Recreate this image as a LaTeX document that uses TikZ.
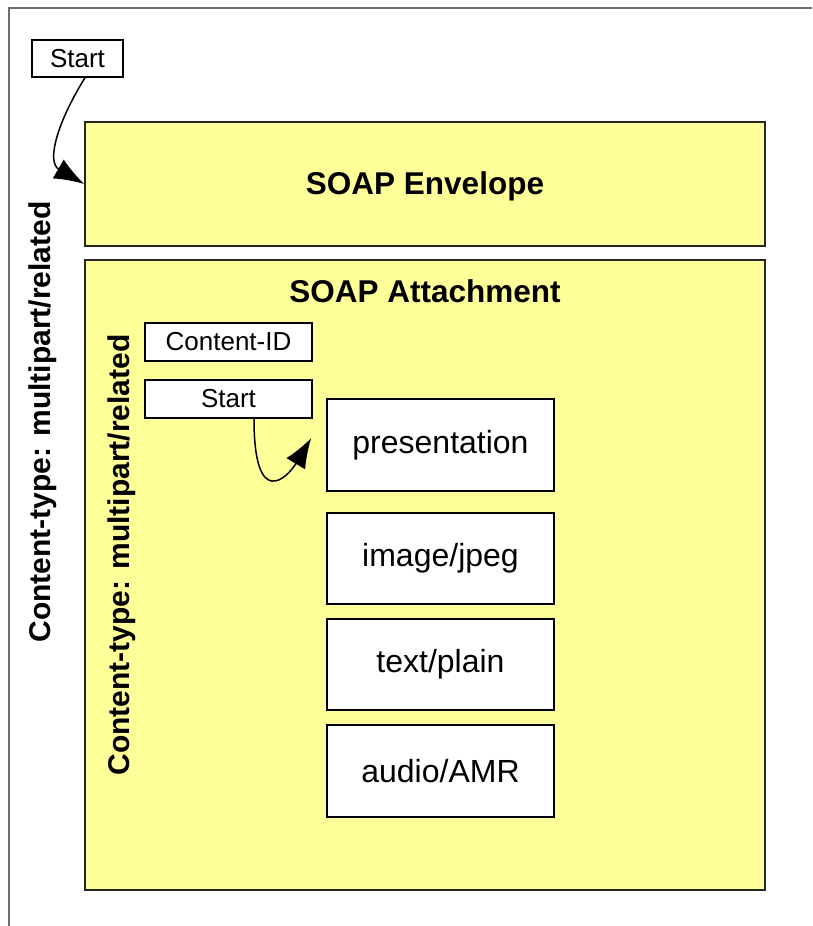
\documentclass[tikz,border=0pt]{standalone}
\usepackage{fontspec}
\setmainfont{Liberation Sans}
\usetikzlibrary{arrows.meta}
\definecolor{soapyellow}{RGB}{255,255,153}
\definecolor{framegray}{RGB}{110,110,110}
\begin{document}
\begin{tikzpicture}[x=1pt,y=-1pt,
  ybox/.style={draw=black!85, line width=1.5pt, fill=soapyellow, inner sep=0pt},
  wbox/.style={draw=black, line width=1.5pt, fill=white, inner sep=0pt, align=center},
  smalltxt/.style={font=\fontsize{26}{30}\selectfont},
  bigtxt/.style={font=\fontsize{32}{36}\selectfont},
  titletxt/.style={font=\bfseries\fontsize{31.5}{36}\selectfont},
  sidetxt/.style={font=\bfseries\fontsize{30}{34}\selectfont, rotate=90, inner sep=0pt},
  conn/.style={line width=1.5pt, -{Latex[length=30pt,width=22pt]}}
]
\useasboundingbox (0,0) rectangle (812,926);
% outer frame
\coordinate (fbl) at (9,926);
\coordinate (ftl) at (9,8);
\coordinate (ftr) at (812,8);
\draw[framegray, line width=1.5pt] (fbl) -- (ftl) -- (ftr);

% envelope and attachment
\node[ybox, minimum width=680pt, minimum height=124pt] (env) at (425,184) {};
\node[titletxt] (envt) at (425,186) {SOAP Envelope};
\node[ybox, minimum width=680pt, minimum height=630pt] (att) at (425,575) {};
\node[titletxt] (attt) at (425,291) {SOAP Attachment};

% side labels
\node[sidetxt] (outerlbl) at (43,422) {Content-type: multipart/related};
\node[sidetxt] (innerlbl) at (122,555) {Content-type: multipart/related};

% start boxes
\node[wbox, smalltxt, minimum width=91pt, minimum height=37pt] (s1) at (77.5,58.5) {Start};
\node[wbox, smalltxt, minimum width=167pt, minimum height=38pt] (cid) at (228.5,342) {Content-ID};
\node[wbox, smalltxt, minimum width=167pt, minimum height=38pt] (s2) at (228.5,399) {Start};

% parts
\node[wbox, bigtxt, minimum width=227pt, minimum height=92pt] (pres) at (440.5,445) {presentation};
\node[wbox, bigtxt, minimum width=227pt, minimum height=91pt] (img) at (440.5,558.5) {image/jpeg};
\node[wbox, bigtxt, minimum width=227pt, minimum height=91pt] (txt) at (440.5,664.5) {text/plain};
\node[wbox, bigtxt, minimum width=227pt, minimum height=92pt] (aud) at (440.5,771) {audio/AMR};

% connectors
\draw[conn] ([xshift=7.5pt]s1.south) .. controls +(-28,45) and +(-38,-22) .. (env.west);
\draw[conn] ([xshift=25.5pt]s2.south) .. controls +(0,92) and +(-24,40) .. ([xshift=-15pt,yshift=7pt]pres.west);
\end{tikzpicture}
\end{document}
